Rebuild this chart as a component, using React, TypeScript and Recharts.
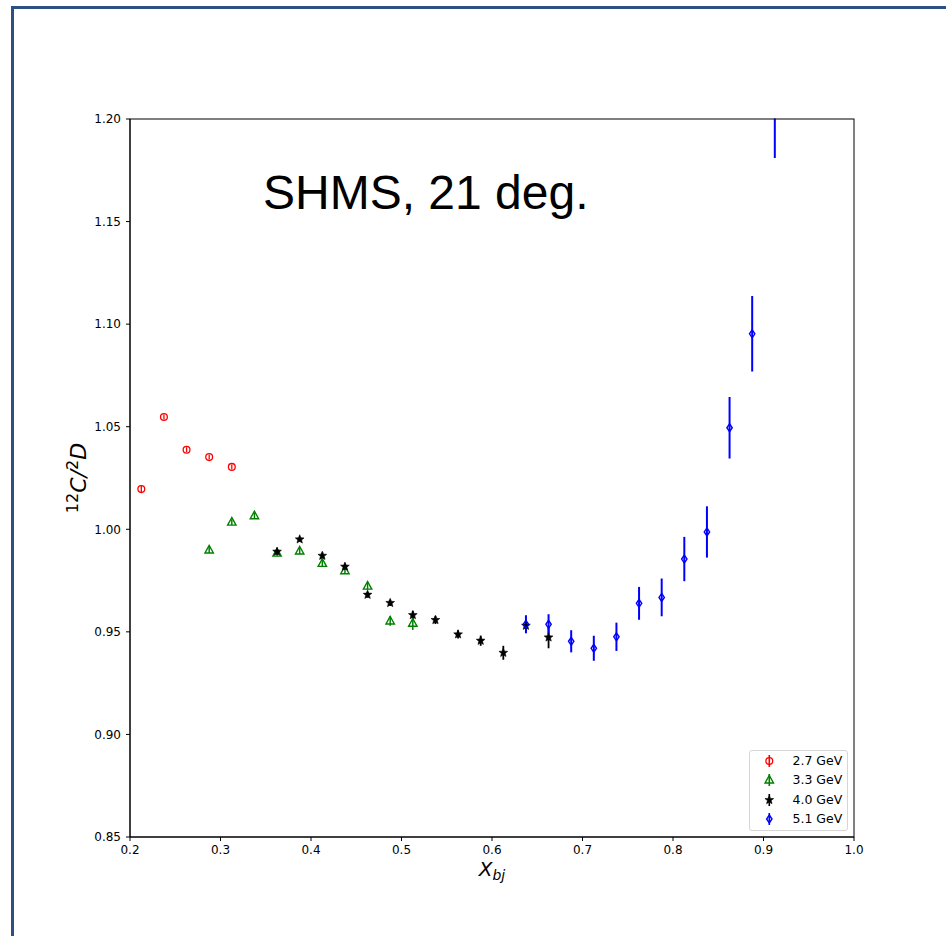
import React from 'react';
import { ScatterChart, Scatter, XAxis, YAxis, ErrorBar, ReferenceArea } from 'recharts';

// x_bj bin centres, 12C/2D ratio and its error for each beam energy
const x27 = [0.2125, 0.2375, 0.2625, 0.2875, 0.3125];
const ratio27 = [1.0196, 1.0547, 1.0388, 1.0352, 1.0304];
const err27 = [0.0015, 0.0012, 0.0012, 0.0012, 0.0012];

const x33 = [0.2875, 0.3125, 0.3375, 0.3625, 0.3875, 0.4125, 0.4375, 0.4625, 0.4875, 0.5125];
const ratio33 = [0.9899, 1.0035, 1.0066, 0.9884, 0.9894, 0.9834, 0.9798, 0.9723, 0.9553, 0.9542];
const err33 = [0.0015, 0.0014, 0.0014, 0.0015, 0.0015, 0.0016, 0.0016, 0.0018, 0.0023, 0.0033];

const x40 = [0.3625, 0.3875, 0.4125, 0.4375, 0.4625, 0.4875, 0.5125, 0.5375, 0.5625, 0.5875, 0.6125, 0.6375, 0.6625];
const ratio40 = [0.9891, 0.9951, 0.9871, 0.9818, 0.9681, 0.9641, 0.9582, 0.9558, 0.9488, 0.9457, 0.9398, 0.953, 0.9473];
const err40 = [0.0015, 0.0012, 0.0015, 0.0015, 0.0015, 0.0015, 0.002, 0.002, 0.002, 0.0025, 0.0034, 0.003, 0.0053];

const x51 = [0.6375, 0.6625, 0.6875, 0.7125, 0.7375, 0.7625, 0.7875, 0.8125, 0.8375, 0.8625, 0.8875, 0.9125];
const ratio51 = [0.9537, 0.9537, 0.9454, 0.942, 0.9476, 0.9639, 0.9668, 0.9855, 0.9987, 1.0495, 1.0953, 1.205];
const err51 = [0.0044, 0.0049, 0.0054, 0.0061, 0.0069, 0.008, 0.0092, 0.0108, 0.0125, 0.015, 0.0184, 0.024];

const xTicks = [0.2, 0.3, 0.4, 0.5, 0.6, 0.7, 0.8, 0.9, 1.0];
const yTicks = [0.85, 0.9, 0.95, 1.0, 1.05, 1.1, 1.15, 1.2];

const toPoints = (xs: number[], ys: number[], errs: number[]) =>
  xs.map((x, i) => ({ x, y: ys[i], err: errs[i] }));

const data27 = toPoints(x27, ratio27, err27);
const data33 = toPoints(x33, ratio33, err33);
const data40 = toPoints(x40, ratio40, err40);
const data51 = toPoints(x51, ratio51, err51);

const RED = '#ff0000';
const GREEN = '#008000';
const BLACK = '#000000';
const BLUE = '#0000ff';

const W = 946;
const H = 936;
const PLOT_LEFT = 130;
const PLOT_TOP = 119;
const PLOT_RIGHT = 854;
const PLOT_BOTTOM = 837;

const tickFont = { fill: '#000', fontSize: 12, fontFamily: 'DejaVu Sans' };

// marker glyphs
const Circle = ({ cx, cy }: any) => (
  <circle cx={cx} cy={cy} r={3.4} fill="none" stroke={RED} strokeWidth={1.3} />
);

const Triangle = ({ cx, cy }: any) => (
  <polygon
    points={`${cx},${cy - 4.6} ${cx - 4.2},${cy + 3} ${cx + 4.2},${cy + 3}`}
    fill="none"
    stroke={GREEN}
    strokeWidth={1.4}
    strokeLinejoin="miter"
  />
);

const starPath = (cx: number, cy: number, R: number, r: number) => {
  let d = '';
  for (let i = 0; i < 10; i++) {
    const a = -Math.PI / 2 + (i * Math.PI) / 5;
    const rad = i % 2 === 0 ? R : r;
    d += (i ? 'L' : 'M') + (cx + rad * Math.cos(a)).toFixed(2) + ',' + (cy + rad * Math.sin(a)).toFixed(2);
  }
  return d + 'Z';
};

const Star = ({ cx, cy }: any) => <path d={starPath(cx, cy, 4.6, 2)} fill={BLACK} stroke={BLACK} strokeWidth={0.6} />;

const Diamond = ({ cx, cy }: any) => (
  <polygon
    points={`${cx},${cy - 4} ${cx + 2.7},${cy} ${cx},${cy + 4} ${cx - 2.7},${cy}`}
    fill="none"
    stroke={BLUE}
    strokeWidth={1.4}
  />
);

const legendItems = [
  { name: '2.7 GeV', color: RED, Shape: Circle },
  { name: '3.3 GeV', color: GREEN, Shape: Triangle },
  { name: '4.0 GeV', color: BLACK, Shape: Star },
  { name: '5.1 GeV', color: BLUE, Shape: Diamond },
];

const XLabel = () => (
  <text
    x={(PLOT_LEFT + PLOT_RIGHT) / 2}
    y={876}
    textAnchor="middle"
    fontFamily="DejaVu Sans"
    fill="#000"
  >
    <tspan fontSize={20} fontStyle="italic">X</tspan>
    <tspan fontSize={14} fontStyle="italic" dy={4}>bj</tspan>
  </text>
);

const YLabel = () => {
  const cx = 86;
  const cy = (PLOT_TOP + PLOT_BOTTOM) / 2;
  return (
    <text
      x={cx}
      y={cy}
      textAnchor="middle"
      transform={`rotate(-90, ${cx}, ${cy})`}
      fontFamily="DejaVu Sans"
      fill="#000"
    >
      <tspan fontSize={16} dy={-8}>12</tspan>
      <tspan fontSize={22} fontStyle="italic" dy={8}>C</tspan>
      <tspan fontSize={22} fontStyle="italic">/</tspan>
      <tspan fontSize={16} dy={-8}>2</tspan>
      <tspan fontSize={22} fontStyle="italic" dy={8}>D</tspan>
    </text>
  );
};

const LegendBox = () => (
  <div
    style={{
      position: 'absolute',
      left: 749,
      top: 750,
      width: 97,
      height: 79,
      border: '1px solid #d6d6d6',
      borderRadius: 3,
      background: 'rgba(255,255,255,0.8)',
      fontFamily: 'DejaVu Sans',
      fontSize: 12.5,
      color: '#000',
    }}
  >
    {legendItems.map((item, i) => {
      const top = 10 + i * 19.4;
      return (
        <div key={item.name} style={{ position: 'absolute', left: 0, top: top - 10, height: 20, width: 97 }}>
          <svg width={30} height={20} style={{ position: 'absolute', left: 4, top: 0 }}>
            <line x1={15.3} y1={4} x2={15.3} y2={16} stroke={item.color} strokeWidth={1.6} />
            <item.Shape cx={15.3} cy={10} />
          </svg>
          <span style={{ position: 'absolute', left: 42.5, top: 2, lineHeight: '16px', whiteSpace: 'nowrap' }}>
            {item.name}
          </span>
        </div>
      );
    })}
  </div>
);

export default function App() {
  return (
    <div style={{ position: 'absolute', left: 0, top: 0, width: W, height: H, overflow: 'hidden', background: '#fff' }}>
      <ScatterChart
        width={W}
        height={H}
        margin={{ top: PLOT_TOP, right: W - PLOT_RIGHT, left: PLOT_LEFT - 60, bottom: H - PLOT_BOTTOM - 45 }}
      >
        <XAxis
          type="number"
          dataKey="x"
          domain={[0.2, 1.0]}
          ticks={xTicks}
          tickFormatter={(v: number) => v.toFixed(1)}
          tickSize={4}
          tickMargin={4}
          axisLine={{ stroke: '#000' }}
          tickLine={{ stroke: '#000' }}
          tick={tickFont}
          height={45}
          allowDataOverflow
        />
        <YAxis
          type="number"
          dataKey="y"
          domain={[0.85, 1.2]}
          ticks={yTicks}
          tickFormatter={(v: number) => v.toFixed(2)}
          tickSize={4}
          tickMargin={5}
          axisLine={{ stroke: '#000' }}
          tickLine={{ stroke: '#000' }}
          tick={tickFont}
          width={60}
          allowDataOverflow
        />
        <Scatter name="2.7 GeV" data={data27} shape={Circle} isAnimationActive={false}>
          <ErrorBar dataKey="err" direction="y" width={0} stroke={RED} strokeWidth={1.3} isAnimationActive={false} />
        </Scatter>
        <Scatter name="3.3 GeV" data={data33} shape={Triangle} isAnimationActive={false}>
          <ErrorBar dataKey="err" direction="y" width={0} stroke={GREEN} strokeWidth={1.5} isAnimationActive={false} />
        </Scatter>
        <Scatter name="4.0 GeV" data={data40} shape={Star} isAnimationActive={false}>
          <ErrorBar dataKey="err" direction="y" width={0} stroke={BLACK} strokeWidth={1.8} isAnimationActive={false} />
        </Scatter>
        <Scatter name="5.1 GeV" data={data51} shape={Diamond} isAnimationActive={false}>
          <ErrorBar dataKey="err" direction="y" width={0} stroke={BLUE} strokeWidth={2} isAnimationActive={false} />
        </Scatter>
      </ScatterChart>
      <svg width={W} height={H} style={{ position: 'absolute', left: 0, top: 0, pointerEvents: 'none' }}>
        {/* error bars are not clipped by the chart, so blank out anything above the plot frame */}
        <rect x={PLOT_LEFT + 1} y={0} width={PLOT_RIGHT - PLOT_LEFT - 2} height={PLOT_TOP - 0.5} fill="#fff" />
        <rect
          x={PLOT_LEFT}
          y={PLOT_TOP}
          width={PLOT_RIGHT - PLOT_LEFT}
          height={PLOT_BOTTOM - PLOT_TOP}
          fill="none"
          stroke="#000"
          strokeWidth={1}
        />
        <text x={263} y={209} fontFamily="Liberation Sans" fontSize={48} fill="#000">
          SHMS, 21 deg.
        </text>
        <XLabel />
        <YLabel />
      </svg>
      <div
        style={{
          position: 'absolute',
          left: 11,
          top: 6,
          width: W + 20,
          height: H + 20,
          borderLeft: '3px solid #2c5083',
          borderTop: '3px solid #2c5083',
        }}
      />
      <LegendBox />
    </div>
  );
}
